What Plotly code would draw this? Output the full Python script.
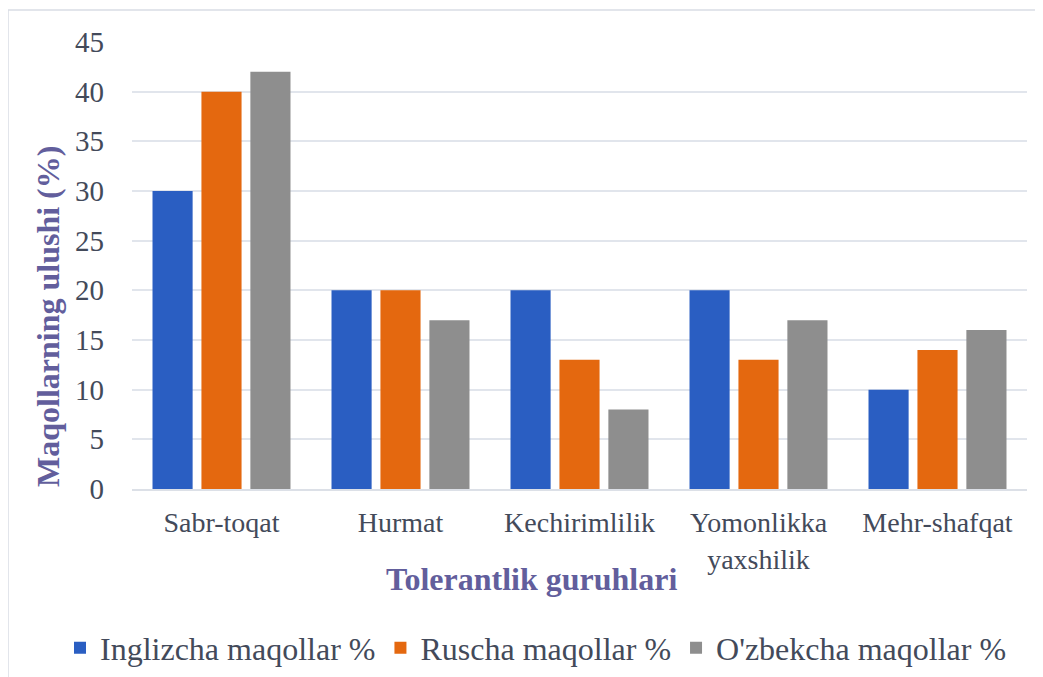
import plotly.graph_objects as go

categories = ["Sabr-toqat", "Hurmat", "Kechirimlilik", "Yomonlikka<br>yaxshilik", "Mehr-shafqat"]
english = [30, 20, 20, 20, 10]
russian = [40, 20, 13, 13, 14]
uzbek = [42, 17, 8, 17, 16]
series_names = ["Inglizcha maqollar %", "Ruscha maqollar %", "O'zbekcha maqollar %"]
colors = ["#2A5EC2", "#E4680F", "#8E8E8E"]
y_ticks = [0, 5, 10, 15, 20, 25, 30, 35, 40, 45]

fig = go.Figure()
for name, vals, col in zip(series_names, [english, russian, uzbek], colors):
    fig.add_trace(go.Bar(x=categories, y=vals, name=name,
                         marker=dict(color=col, line=dict(width=0))))

FF = "Liberation Serif, Times New Roman, serif"
TXT = "#434A5A"
TITLE = "#625E9C"

# page offset (body margin) compensation
OFF = 8
# target plot area on screen: x 132..1027, y 42..489
L, R, T, B = 132 - OFF, 1027 - OFF, 42 - OFF, 489 - OFF
W, H = R - L, B - T

def px(x):
    return (x - OFF - L) / W

def py(y):
    return (B - (y - OFF)) / H

fig.update_layout(
    width=1043, height=677,
    paper_bgcolor="white", plot_bgcolor="white",
    margin=dict(l=L, r=1043 - R, t=T, b=677 - B, autoexpand=False),
    barmode="group", bargap=0.18, bargroupgap=0.18,
    font=dict(family=FF, color=TXT),
    showlegend=True,
    xaxis=dict(
        automargin=False,
        tickfont=dict(size=28, color=TXT, family=FF),
        showgrid=False, showline=True, linecolor="#DCE0E7", linewidth=1.5,
        ticks="", ticklabelstandoff=8,
    ),
    yaxis=dict(
        automargin=False,
        range=[0, 45], tickvals=y_ticks,
        tickfont=dict(size=29, color=TXT, family=FF),
        showgrid=True, gridcolor="#E1E5EC", gridwidth=1.5,
        zeroline=False, showline=False, ticks="", ticklabelstandoff=27,
    ),
    legend=dict(orientation="h", x=px(60), xanchor="left", y=py(648), yanchor="middle",
                font=dict(size=32, color=TXT, family=FF),
                itemwidth=30, traceorder="normal", tracegroupgap=0),
    annotations=[
        dict(text="<b>Tolerantlik guruhlari</b>", xref="paper", yref="paper",
             x=px(531), y=py(579), xanchor="center", yanchor="middle", showarrow=False,
             font=dict(size=32, color=TITLE, family=FF)),
        dict(text="<b>Maqollarning ulushi (%)</b>", xref="paper", yref="paper",
             x=px(48), y=py(317), xanchor="center", yanchor="middle", showarrow=False,
             textangle=-90, font=dict(size=32, color=TITLE, family=FF)),
    ],
    shapes=[dict(type="rect", xref="paper", yref="paper",
                 x0=px(8), x1=px(1070), y0=py(720), y1=py(10),
                 line=dict(color="#D9DDE5", width=1.5), fillcolor="rgba(0,0,0,0)",
                 layer="below")],
)

fig.write_html("out.html")
